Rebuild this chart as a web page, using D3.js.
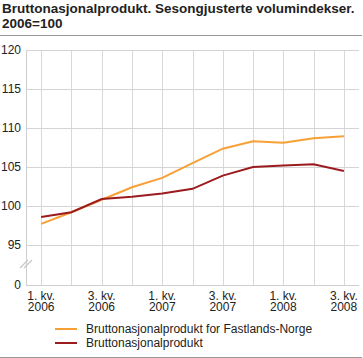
<!DOCTYPE html>
<html>
<head>
<meta charset="utf-8">
<script src="https://cdn.jsdelivr.net/npm/d3@7"></script>
<style>
  body { margin: 0; background: #fff; }
  text { font-family: "Liberation Sans", Arial, sans-serif; fill: #222; }
</style>
</head>
<body>
<div id="chart"></div>
<script>
// data
var quarters = ["1. kv. 2006", "2. kv. 2006", "3. kv. 2006", "4. kv. 2006",
                "1. kv. 2007", "2. kv. 2007", "3. kv. 2007", "4. kv. 2007",
                "1. kv. 2008", "2. kv. 2008", "3. kv. 2008"];
var fastland = [97.7, 99.2, 100.8, 102.4, 103.6, 105.5, 107.35, 108.3, 108.1, 108.7, 108.95];
var bnp      = [98.6, 99.2, 100.9, 101.2, 101.6, 102.2, 103.9, 105.0, 105.2, 105.35, 104.5];
var yTicks = [95, 100, 105, 110, 115, 120];
var seriesNames = ["Bruttonasjonalprodukt for Fastlands-Norge", "Bruttonasjonalprodukt"];
var colors = ["#f7a035", "#9b1b1f"];

var W = 363, H = 358;
var plotLeft = 26, plotRight = 359, plotTop = 50;
var breakY = 245, zeroY = 285;

var svg = d3.select("#chart").append("svg")
    .attr("width", W)
    .attr("height", H);

// title
svg.append("text")
    .attr("x", 2).attr("y", 13)
    .style("font-size", "13.5px").style("font-weight", "bold")
    .text("Bruttonasjonalprodukt. Sesongjusterte volumindekser.");
svg.append("text")
    .attr("x", 2).attr("y", 28)
    .style("font-size", "13.5px").style("font-weight", "bold")
    .text("2006=100");

svg.append("line")
    .attr("x1", 0).attr("x2", 362).attr("y1", 35.5).attr("y2", 35.5)
    .attr("stroke", "#999");

// scales
var x = d3.scalePoint().domain(quarters).range([plotLeft, plotRight]).padding(0.5);
var y = d3.scaleLinear().domain([95, 120]).range([breakY, plotTop]);

// vertical grid
svg.append("g").selectAll("line")
    .data(quarters)
    .join("line")
    .attr("x1", function(d) { return Math.round(x(d)) + 0.5; })
    .attr("x2", function(d) { return Math.round(x(d)) + 0.5; })
    .attr("y1", plotTop).attr("y2", zeroY)
    .attr("stroke", "#d8d8d8");

// horizontal grid
svg.append("g").selectAll("line")
    .data(yTicks)
    .join("line")
    .attr("x1", plotLeft).attr("x2", plotRight)
    .attr("y1", function(d) { return Math.round(y(d)) + 0.5; })
    .attr("y2", function(d) { return Math.round(y(d)) + 0.5; })
    .attr("stroke", "#d4d4d4");

// y axis line + zero line
svg.append("line")
    .attr("x1", plotLeft + 0.5).attr("x2", plotLeft + 0.5).attr("y1", plotTop).attr("y2", zeroY)
    .attr("stroke", "#cfcfcf");
svg.append("line")
    .attr("x1", plotLeft).attr("x2", plotRight).attr("y1", zeroY + 0.5).attr("y2", zeroY + 0.5)
    .attr("stroke", "#cfcfcf");

// axis break marks
[0, 4].forEach(function(o) {
    svg.append("line")
        .attr("x1", 20 + o).attr("y1", 268)
        .attr("x2", 28 + o).attr("y2", 260)
        .attr("stroke", "#c8c8c8").attr("stroke-width", 1.2);
});

// y labels
svg.append("g").selectAll("text")
    .data(yTicks)
    .join("text")
    .attr("x", 21).attr("y", function(d) { return y(d) + 4; })
    .attr("text-anchor", "end")
    .style("font-size", "12px")
    .text(function(d) { return d; });
svg.append("text")
    .attr("x", 21).attr("y", zeroY + 4)
    .attr("text-anchor", "end")
    .style("font-size", "12px")
    .text("0");

// x labels (every other quarter), two lines each
var labelled = quarters.filter(function(d, i) { return i % 2 === 0; });
svg.append("g").selectAll("text")
    .data(labelled)
    .join("text")
    .attr("x", function(d) { return x(d); }).attr("y", 300)
    .attr("text-anchor", "middle")
    .style("font-size", "12px")
    .text(function(d) { return d.slice(0, 6); });
svg.append("g").selectAll("text")
    .data(labelled)
    .join("text")
    .attr("x", function(d) { return x(d); }).attr("y", 311)
    .attr("text-anchor", "middle")
    .style("font-size", "12px")
    .text(function(d) { return d.slice(7); });

// lines
var line = d3.line()
    .x(function(d, i) { return x(quarters[i]); })
    .y(function(d) { return y(d); });

svg.append("path")
    .datum(fastland)
    .attr("fill", "none")
    .attr("stroke", colors[0])
    .attr("stroke-width", 2)
    .attr("d", line);

svg.append("path")
    .datum(bnp)
    .attr("fill", "none")
    .attr("stroke", colors[1])
    .attr("stroke-width", 2)
    .attr("d", line);

// legend
seriesNames.forEach(function(name, i) {
    var ly = 329 + i * 14;
    svg.append("line")
        .attr("x1", 55).attr("x2", 77).attr("y1", ly).attr("y2", ly)
        .attr("stroke", colors[i]).attr("stroke-width", 2);
    svg.append("text")
        .attr("x", 86).attr("y", ly + 4)
        .style("font-size", "12px")
        .text(name);
});

svg.append("line")
    .attr("x1", 0).attr("x2", 362).attr("y1", 357.5).attr("y2", 357.5)
    .attr("stroke", "#999");
</script>
</body>
</html>
